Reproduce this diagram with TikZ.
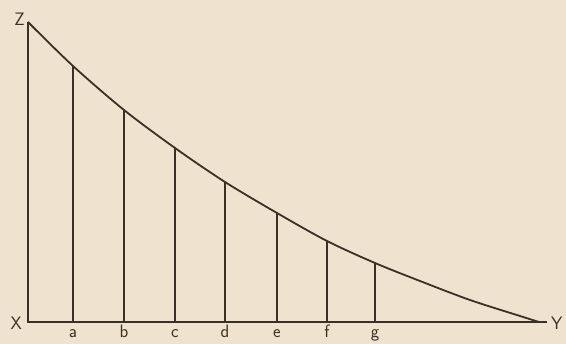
\documentclass[tikz,border=0pt]{standalone}
\usepackage{tikz}
\usetikzlibrary{positioning}
\definecolor{paper}{RGB}{239,226,206}
\definecolor{ink}{RGB}{58,48,38}

\begin{document}
\begin{tikzpicture}[x=1pt,y=-1pt,
    frameline/.style={ink, line width=1.8pt},
    ordinate/.style={ink, line width=1.1pt},
    letter/.style={text=ink, font=\sffamily\fontsize{18}{20}\selectfont, inner sep=1pt}]
            \fill[paper] (0,0) rectangle (566,344);
            \useasboundingbox (0,0) rectangle (566,344);

            \coordinate (Z) at (28,22);
            \coordinate (X) at (28,322);
            \coordinate (Yend) at (547,322);
            \coordinate (curveend) at (539,322);

            % axes
            \draw[frameline] (Z) -- (X) -- (Yend);
            \draw[frameline] plot[smooth] coordinates {
                (28,22) (73,66) (124,110) (175,148) (225,182) (277,213)
                (327,241) (375,263) (420,281) (470,300) (520,316) (539,322)};

            \node[letter, anchor=east] (Zlbl) at (26,19) {Z};
            \node[letter, anchor=east] (Xlbl) at (23,323) {X};
            \node[letter, anchor=west] (Ylbl) at (550,323) {Y};

            % ordinates
            \foreach \lbl/\px/\py in {a/73/66, b/124/110, c/175/148, d/225/182, e/277/213, f/327/241, g/375/263} {
                    \coordinate (\lbl top) at (\px,\py);
                    \coordinate (\lbl foot) at (\px,322);
                    \draw[ordinate] (\lbl top) -- (\lbl foot);
                    \node[letter, anchor=base] (\lbl lbl) at (\px,338) {\lbl};
                }
        \end{tikzpicture}
\end{document}
